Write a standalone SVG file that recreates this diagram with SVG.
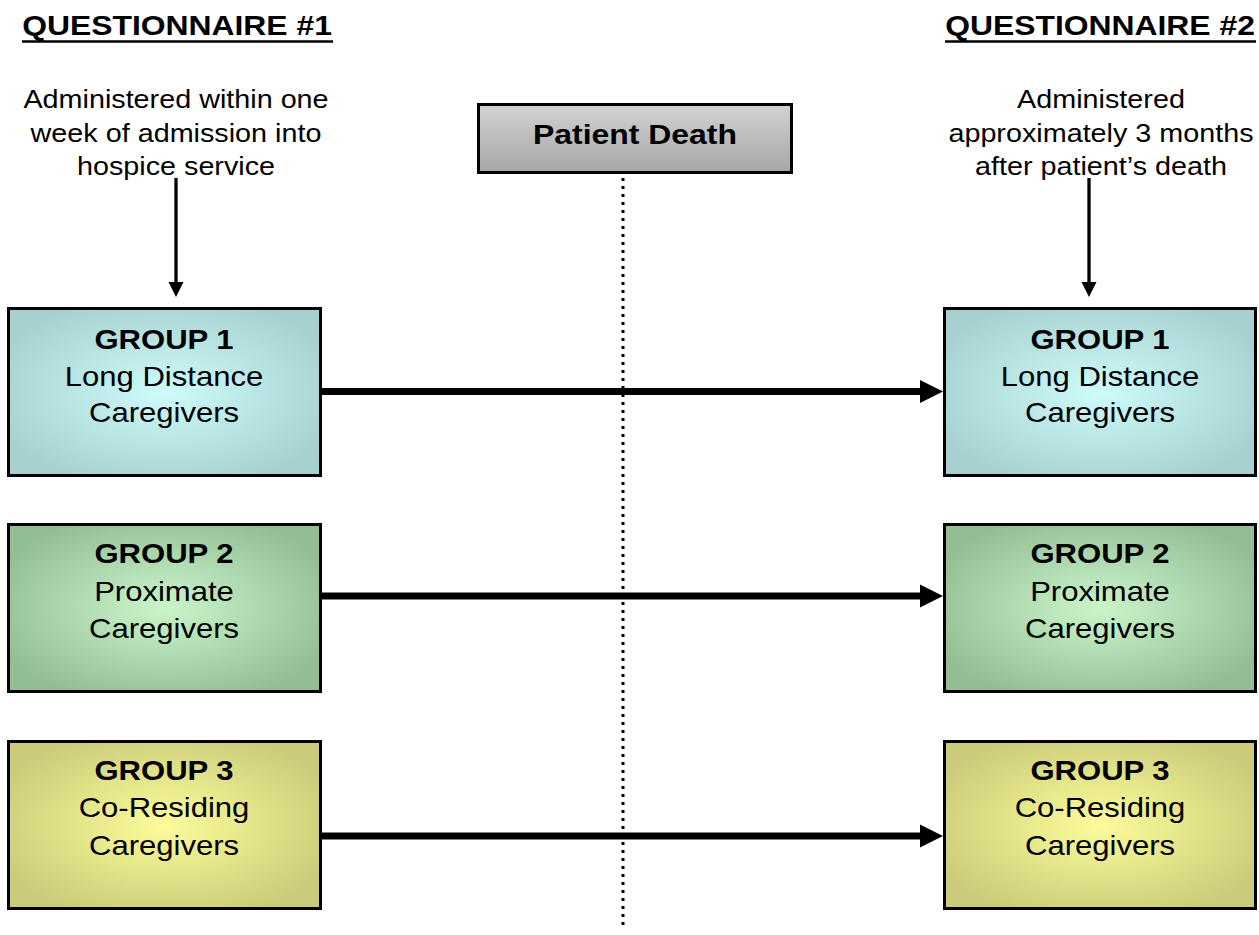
<svg xmlns="http://www.w3.org/2000/svg" width="1259" height="935" viewBox="0 0 1259 935">
<style>
  .t { font-family: "Liberation Sans", Arial, sans-serif; fill: #000; text-anchor: middle; }
  .title { font-size: 27px; font-weight: bold; }
  .ul { stroke: #000; stroke-width: 2.5; }
  .body { font-size: 25px; }
  .lbl { font-size: 27px; }
  .b { font-weight: bold; }
  .box { stroke: #000; stroke-width: 3; }
  .arr { stroke: #000; stroke-width: 7; fill: none; }
  .varr { stroke: #000; stroke-width: 3.3; fill: none; }
  .dot { stroke: #000; stroke-width: 3; stroke-dasharray: 3 5; fill: none; }
</style>
<defs>
  <radialGradient id="g1" cx="50%" cy="50%" r="58%">
    <stop offset="0" stop-color="#cdfbfb"/>
    <stop offset="0.25" stop-color="#c4f0f0"/>
    <stop offset="1" stop-color="#a7d1d1"/>
  </radialGradient>
  <radialGradient id="g2" cx="50%" cy="50%" r="58%">
    <stop offset="0" stop-color="#c8f4c8"/>
    <stop offset="0.25" stop-color="#bde8bd"/>
    <stop offset="1" stop-color="#93bd93"/>
  </radialGradient>
  <radialGradient id="g3" cx="50%" cy="50%" r="58%">
    <stop offset="0" stop-color="#fbfb9c"/>
    <stop offset="0.25" stop-color="#f0f092"/>
    <stop offset="1" stop-color="#cbcb7a"/>
  </radialGradient>
  <linearGradient id="gp" x1="0" y1="0" x2="0" y2="1">
    <stop offset="0" stop-color="#d2d2d2"/>
    <stop offset="1" stop-color="#a6a6a6"/>
  </linearGradient>
</defs>

<g id="headers">
  <text class="t title" transform="translate(177 35) scale(1.18 1)">QUESTIONNAIRE #1</text>
  <line class="ul" x1="22" y1="41.5" x2="333" y2="41.5"/>
  <text class="t title" transform="translate(1100 35) scale(1.18 1)">QUESTIONNAIRE #2</text>
  <line class="ul" x1="945" y1="41.5" x2="1256" y2="41.5"/>
  <text class="t body" transform="translate(176 108) scale(1.15 1)">Administered within one</text>
  <text class="t body" transform="translate(176 142) scale(1.15 1)">week of admission into</text>
  <text class="t body" transform="translate(176 175) scale(1.15 1)">hospice service</text>
  <text class="t body" transform="translate(1101 108) scale(1.15 1)">Administered</text>
  <text class="t body" transform="translate(1101 142) scale(1.15 1)">approximately 3 months</text>
  <text class="t body" transform="translate(1101 175) scale(1.15 1)">after patient’s death</text>
</g>

<g id="connectors">
  <line class="dot" x1="623" y1="178" x2="623" y2="930"/>
  <line class="varr" x1="176" y1="178" x2="176" y2="284"/>
  <polygon points="168.5,282 183.5,282 176,297"/>
  <line class="varr" x1="1089" y1="178" x2="1089" y2="284"/>
  <polygon points="1081.5,282 1096.5,282 1089,297"/>
  <line class="arr" x1="322" y1="391.5" x2="922" y2="391.5"/>
  <polygon points="920,380 943,391.5 920,403"/>
  <line class="arr" x1="322" y1="596" x2="922" y2="596"/>
  <polygon points="920,584.5 943,596 920,607.5"/>
  <line class="arr" x1="322" y1="836" x2="922" y2="836"/>
  <polygon points="920,824.5 943,836 920,847.5"/>
</g>

<g id="patient-death">
  <rect class="box" x="478.5" y="104.5" width="313" height="68" fill="url(#gp)"/>
  <text class="t lbl b" transform="translate(635 143.5) scale(1.14 1)" style="font-size:28px">Patient Death</text>
</g>

<g id="group1-left">
  <rect class="box" x="8.5" y="308.5" width="312" height="167" fill="url(#g1)"/>
  <text class="t lbl b" transform="translate(164 349) scale(1.15 1)">GROUP 1</text>
  <text class="t lbl" transform="translate(164 386) scale(1.15 1)">Long Distance</text>
  <text class="t lbl" transform="translate(164 422) scale(1.15 1)">Caregivers</text>
</g>
<g id="group2-left">
  <rect class="box" x="8.5" y="524.5" width="312" height="167" fill="url(#g2)"/>
  <text class="t lbl b" transform="translate(164 563) scale(1.15 1)">GROUP 2</text>
  <text class="t lbl" transform="translate(164 601) scale(1.15 1)">Proximate</text>
  <text class="t lbl" transform="translate(164 638) scale(1.15 1)">Caregivers</text>
</g>
<g id="group3-left">
  <rect class="box" x="8.5" y="741.5" width="312" height="167" fill="url(#g3)"/>
  <text class="t lbl b" transform="translate(164 780) scale(1.15 1)">GROUP 3</text>
  <text class="t lbl" transform="translate(164 817) scale(1.15 1)">Co-Residing</text>
  <text class="t lbl" transform="translate(164 855) scale(1.15 1)">Caregivers</text>
</g>

<g id="group1-right">
  <rect class="box" x="944.5" y="308.5" width="311" height="167" fill="url(#g1)"/>
  <text class="t lbl b" transform="translate(1100 349) scale(1.15 1)">GROUP 1</text>
  <text class="t lbl" transform="translate(1100 386) scale(1.15 1)">Long Distance</text>
  <text class="t lbl" transform="translate(1100 422) scale(1.15 1)">Caregivers</text>
</g>
<g id="group2-right">
  <rect class="box" x="944.5" y="524.5" width="311" height="167" fill="url(#g2)"/>
  <text class="t lbl b" transform="translate(1100 563) scale(1.15 1)">GROUP 2</text>
  <text class="t lbl" transform="translate(1100 601) scale(1.15 1)">Proximate</text>
  <text class="t lbl" transform="translate(1100 638) scale(1.15 1)">Caregivers</text>
</g>
<g id="group3-right">
  <rect class="box" x="944.5" y="741.5" width="311" height="167" fill="url(#g3)"/>
  <text class="t lbl b" transform="translate(1100 780) scale(1.15 1)">GROUP 3</text>
  <text class="t lbl" transform="translate(1100 817) scale(1.15 1)">Co-Residing</text>
  <text class="t lbl" transform="translate(1100 855) scale(1.15 1)">Caregivers</text>
</g>
</svg>
